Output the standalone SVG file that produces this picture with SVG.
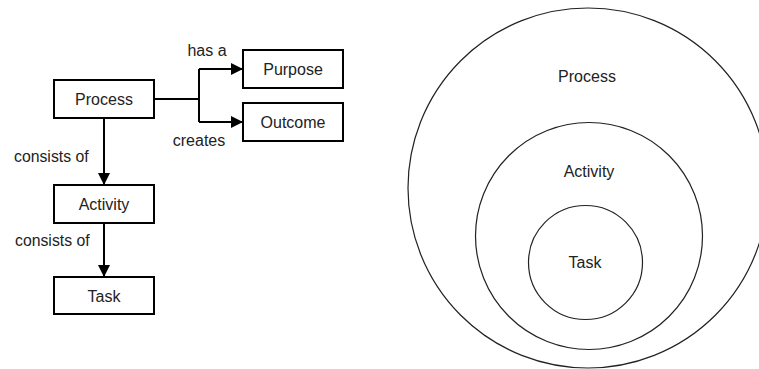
<svg xmlns="http://www.w3.org/2000/svg" width="759" height="369" viewBox="0 0 759 369">
<style>
.box{fill:#fff;stroke:#000;stroke-width:2}
.t{font-family:"Liberation Sans",Arial,sans-serif;font-size:16px;fill:#222;text-anchor:middle}
.lbl{font-family:"Liberation Sans",Arial,sans-serif;font-size:15.8px;fill:#222}
.edge{fill:none;stroke:#000;stroke-width:2}
.ring{fill:none;stroke:#222;stroke-width:1.2}
</style>
<defs>
<marker id="ah" viewBox="0 0 12 12" refX="12" refY="6" markerWidth="12" markerHeight="12" markerUnits="userSpaceOnUse" orient="auto">
<path d="M0,0 L12,6 L0,12 Z" fill="#000"/>
</marker>
</defs>
<g id="connectors">
<path class="edge" d="M154,99 H199 M199,69 V122" />
<path class="edge" d="M199,69 H243" marker-end="url(#ah)"/>
<path class="edge" d="M199,122 H243" marker-end="url(#ah)"/>
<path class="edge" d="M104,118 V185" marker-end="url(#ah)"/>
<path class="edge" d="M104,223 V277" marker-end="url(#ah)"/>
<text class="t" x="207" y="56">has a</text>
<text class="t" x="199" y="146">creates</text>
<text class="lbl" x="14" y="162">consists of</text>
<text class="lbl" x="15" y="246">consists of</text>
</g>
<g id="process">
<rect class="box" x="54" y="80" width="100" height="38"/>
<text class="t" x="104" y="105">Process</text>
</g>
<g id="purpose">
<rect class="box" x="243" y="50" width="100" height="38"/>
<text class="t" x="293" y="75">Purpose</text>
</g>
<g id="outcome">
<rect class="box" x="243" y="103" width="100" height="38"/>
<text class="t" x="293" y="128">Outcome</text>
</g>
<g id="activity">
<rect class="box" x="54" y="185" width="100" height="38"/>
<text class="t" x="104" y="210">Activity</text>
</g>
<g id="task">
<rect class="box" x="54" y="277" width="100" height="37"/>
<text class="t" x="104" y="302">Task</text>
</g>
<g id="process-circle">
<circle class="ring" cx="588" cy="188" r="180"/>
<text class="t" x="587" y="82">Process</text>
</g>
<g id="activity-circle">
<circle class="ring" cx="589" cy="236" r="113.5"/>
<text class="t" x="589" y="177">Activity</text>
</g>
<g id="task-circle">
<circle class="ring" cx="585.5" cy="262.5" r="57"/>
<text class="t" x="585" y="268">Task</text>
</g>
</svg>
